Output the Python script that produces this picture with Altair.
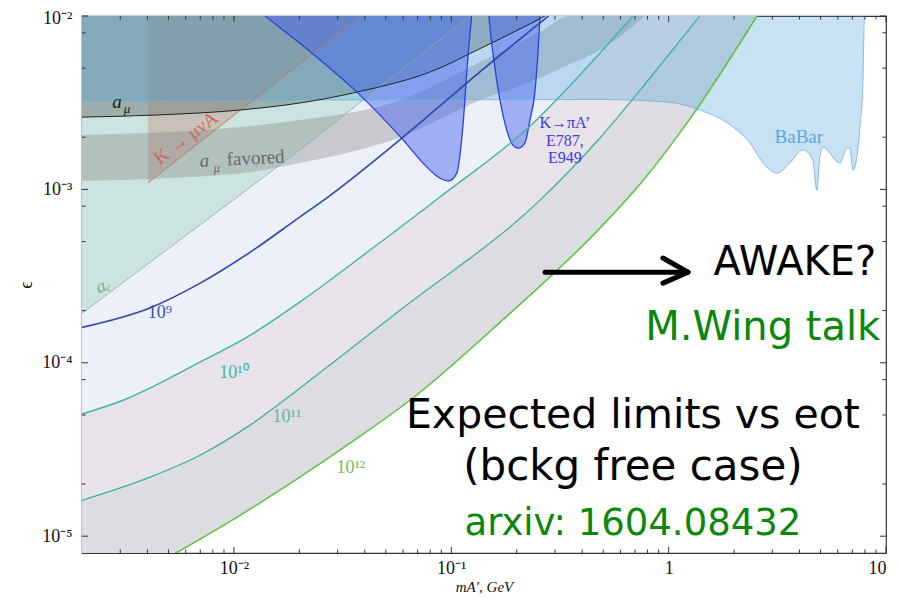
import altair as alt
import pandas as pd

SERIF = "Liberation Serif"
SANS = "DejaVu Sans"
W, H = 804, 537

X_DOMAIN = [0.002, 10.0]
Y_DOMAIN = [8e-6, 1e-2]
TOP = 1e-2

# ---- expected-limit curves (electrons on target) ----
m_1e9 = [0.002, 0.0041, 0.007, 0.0119, 0.020, 0.026, 0.060, 0.135, 0.28]
e_1e9 = [1.6e-4, 2.07e-4, 2.88e-4, 4.35e-4, 6.9e-4, 8.7e-4, 2.0e-3, 4.75e-3, 1.0e-2]
m_1e10 = [0.002, 0.00309, 0.00698, 0.01186, 0.0201, 0.0423, 0.0887, 0.238, 0.483, 0.685]
e_1e10 = [5.06e-5, 6.08e-5, 1.01e-4, 1.44e-4, 2.24e-4, 4.47e-4, 9.04e-4, 2.41e-3, 6.11e-3, 1.0e-2]
m_1e11 = [0.002, 0.00411, 0.00698, 0.01186, 0.0201, 0.0581, 0.256, 0.483, 0.820, 1.39]
e_1e11 = [1.61e-5, 2.19e-5, 2.93e-5, 4.37e-5, 7.14e-5, 2.01e-4, 8.67e-4, 1.98e-3, 4.39e-3, 1.0e-2]
m_1e12 = [0.002, 0.00541, 0.01067, 0.0201, 0.0342, 0.0646, 0.1675, 0.483, 0.738, 1.253, 2.55]
e_1e12 = [4.0e-6, 8.0e-6, 1.32e-5, 2.19e-5, 3.44e-5, 6.08e-5, 1.71e-4, 5.98e-4, 1.07e-3, 2.55e-3, 1.0e-2]

# ---- existing constraints ----
ae_m = [0.002, 0.00991, 0.0201, 0.122]
ae_e = [1.93e-4, 8.67e-4, 1.69e-3, 1.0e-2]

amu_m = [0.002, 0.00457, 0.01067, 0.0201, 0.0368, 0.0887, 0.126, 0.230, 0.270]
amu_e = [2.61e-3, 2.69e-3, 2.87e-3, 3.15e-3, 3.64e-3, 5.01e-3, 6.20e-3, 9.0e-3, 1.0e-2]

band_m = [0.002, 0.0107, 0.0201, 0.0581, 0.1355, 0.256, 0.352, 0.483, 0.778]
band_lo = [1.12e-3, 1.24e-3, 1.42e-3, 2.0e-3, 3.27e-3, 4.39e-3, 5.28e-3, 6.37e-3, 1.0e-2]
band_hi = [2.06e-3, 2.29e-3, 2.51e-3, 3.27e-3, 5.43e-3, 8.09e-3, 1.0e-2, 1.0e-2, 1.0e-2]

k_m = [0.00402, 0.0380]
k_e = [1.09e-3, 1.0e-2]

babar_m = [0.002, 0.483, 0.982, 1.39, 1.98, 2.37, 2.72, 3.15, 3.61, 4.14, 4.60, 4.81,
           4.96, 5.13, 6.14, 6.61, 6.82, 7.05, 7.35, 7.59, 7.83, 7.91, 7.95]
babar_e = [3.24e-3, 3.3e-3, 3.19e-3, 2.87e-3, 2.29e-3, 1.85e-3, 1.42e-3, 1.24e-3, 1.42e-3,
           1.69e-3, 1.48e-3, 9.9e-4, 1.54e-3, 1.75e-3, 1.42e-3, 1.73e-3, 1.73e-3, 1.29e-3,
           1.54e-3, 2.29e-3, 4.10e-3, 7.87e-3, 1.0e-2]

lobe1_m = [0.0139, 0.0231, 0.0368, 0.0600, 0.0757, 0.0887, 0.0975, 0.106, 0.113, 0.119, 0.124]
lobe1_e = [1.0e-2, 6.04e-3, 3.64e-3, 1.93e-3, 1.38e-3, 1.16e-3, 1.12e-3, 1.24e-3, 2.29e-3, 5.57e-3, 1.0e-2]
lobe2_m = [0.149, 0.151, 0.157, 0.1675, 0.180, 0.192, 0.203, 0.218, 0.230, 0.243, 0.251, 0.256]
lobe2_e = [1.0e-2, 8.3e-3, 5.57e-3, 3.27e-3, 2.20e-3, 1.80e-3, 1.73e-3, 1.85e-3, 2.51e-3, 3.74e-3, 6.37e-3, 1.0e-2]

# ---- arrow annotation ----
arrow_m = [0.270, 1.227]
arrow_e = [3.33e-4, 3.33e-4]
head_m = [0.942, 1.227, 0.942]
head_e = [4.02e-4, 3.33e-4, 2.88e-4]

# ---- ticks ----
x_major = [0.01, 0.1, 1.0, 10.0]
x_minor = [0.003, 0.004, 0.005, 0.006, 0.007, 0.008, 0.009,
           0.02, 0.03, 0.04, 0.05, 0.06, 0.07, 0.08, 0.09,
           0.2, 0.3, 0.4, 0.5, 0.6, 0.7, 0.8, 0.9,
           2.0, 3.0, 4.0, 5.0, 6.0, 7.0, 8.0, 9.0]
y_major = [1e-5, 1e-4, 1e-3, 1e-2]
y_minor = [2e-5, 5e-5, 8e-5, 2e-4, 5e-4, 8e-4, 2e-3, 5e-3, 8e-3]

xs = alt.Scale(type="log", domain=X_DOMAIN, nice=False)
ys = alt.Scale(type="log", domain=Y_DOMAIN, nice=False)

xaxis = alt.Axis(values=x_major, ticks=False, domain=False, grid=False,
                 labelExpr="datum.value == 0.01 ? '10⁻²' : datum.value == 0.1 ? '10⁻¹' : datum.value == 1 ? '1' : '10'",
                 labelFont=SERIF, labelFontSize=18, labelColor="#111", labelPadding=6,
                 labelFlush=True, labelOverlap=False,
                 title="mA′, GeV", titleFont=SERIF, titleFontStyle="italic", titleFontWeight="normal",
                 titleFontSize=15, titleColor="#111", titlePadding=2)
yaxis = alt.Axis(values=y_major, ticks=False, domain=False, grid=False,
                 labelExpr="datum.value == 0.01 ? '10⁻²' : datum.value == 0.001 ? '10⁻³' : datum.value == 0.0001 ? '10⁻⁴' : '10⁻⁵'",
                 labelFont=SERIF, labelFontSize=18, labelColor="#111", labelPadding=10,
                 labelFlush=True, labelFlushOffset=7, labelOverlap=False,
                 title="ϵ", titleFont=SERIF, titleFontWeight="normal", titleFontSize=18,
                 titleColor="#111", titlePadding=6)


def X(field="m"):
    return alt.X(f"{field}:Q", scale=xs, axis=xaxis)


def Y(field="e"):
    return alt.Y(f"{field}:Q", scale=ys, axis=yaxis)


def frame(m, e):
    return pd.DataFrame({"m": m, "e": e, "top": TOP})


def fill(m, e, color, opacity, interp="monotone"):
    return alt.Chart(frame(m, e)).mark_area(
        color=color, opacity=opacity, interpolate=interp, clip=True
    ).encode(x=X(), y=Y(), y2="top:Q")


def curve(m, e, color, width, interp="monotone"):
    return alt.Chart(frame(m, e)).mark_line(
        color=color, strokeWidth=width, interpolate=interp, clip=True
    ).encode(x=X(), y=Y())


def label(text, m, e, color, size, font=SERIF, style="normal", angle=0,
          align="center", baseline="alphabetic"):
    df = pd.DataFrame({"m": [m], "e": [e], "t": [text]})
    kw = dict(color=color, fontSize=size, font=font, fontStyle=style,
              align=align, baseline=baseline)
    if angle:
        kw["angle"] = angle
    return alt.Chart(df).mark_text(**kw).encode(x=X(), y=Y(), text="t:N")


layers = []
# expected-limit regions (opaque, back to front)
layers.append(fill(m_1e12, e_1e12, "#dcdce1", 1.0))
layers.append(fill(m_1e11, e_1e11, "#e7e3e8", 1.0))
layers.append(fill(m_1e10, e_1e10, "#eef0f9", 1.0))

# a_e excluded
layers.append(fill(ae_m, ae_e, "#9cd4bc", 0.42, "linear"))
# K -> mu nu A
layers.append(fill(k_m, k_e, "#c07060", 0.30, "linear"))
# a_mu favoured band
band_df = pd.DataFrame({"m": band_m, "lo": band_lo, "hi": band_hi})
layers.append(alt.Chart(band_df).mark_area(color="#808080", opacity=0.35,
                                           interpolate="monotone", clip=True)
              .encode(x=X(), y=Y("lo"), y2="hi:Q"))
# a_mu excluded
layers.append(fill(amu_m, amu_e, "#7c8886", 0.58))
# BaBar
layers.append(fill(babar_m, babar_e, "#4aa0dc", 0.30))
# K -> pi A' (E787, E949)
layers.append(fill(lobe1_m, lobe1_e, "#4060f0", 0.45))
layers.append(fill(lobe2_m, lobe2_e, "#4060f0", 0.45))

# boundary lines
layers.append(curve(ae_m, ae_e, "#86b0a2", 0.8, "linear"))
layers.append(curve(k_m, k_e, "#c07060", 0.9, "linear"))
layers.append(curve(babar_m, babar_e, "#6ab0e2", 0.8))
layers.append(curve(amu_m, amu_e, "#222222", 1.0))
layers.append(curve(lobe1_m, lobe1_e, "#2442e0", 1.3))
layers.append(curve(lobe2_m, lobe2_e, "#2442e0", 1.3))
layers.append(curve(m_1e9, e_1e9, "#2a48b0", 1.6))
layers.append(curve(m_1e10, e_1e10, "#3cb4ac", 1.4))
layers.append(curve(m_1e11, e_1e11, "#3cb0a8", 1.3))
layers.append(curve(m_1e12, e_1e12, "#5cc23c", 1.5))

# ticks (pointing inwards on all four sides)
xt = pd.DataFrame({"m": x_major})
xm = pd.DataFrame({"m": x_minor})
yt = pd.DataFrame({"e": y_major})
ym = pd.DataFrame({"e": y_minor})
tick_col = "#333333"
for df, ln in ((xt, 6), (xm, 3.5)):
    layers.append(alt.Chart(df).mark_rule(color=tick_col, strokeWidth=1).encode(
        x=X(), y=alt.value(H), y2=alt.value(H - ln)))
    layers.append(alt.Chart(df).mark_rule(color=tick_col, strokeWidth=1).encode(
        x=X(), y=alt.value(0), y2=alt.value(ln)))
for df, ln in ((yt, 6), (ym, 3.5)):
    layers.append(alt.Chart(df).mark_rule(color=tick_col, strokeWidth=1).encode(
        y=Y(), x=alt.value(0), x2=alt.value(ln)))
    layers.append(alt.Chart(df).mark_rule(color=tick_col, strokeWidth=1).encode(
        y=Y(), x=alt.value(W), x2=alt.value(W - ln)))

# physics labels
layers.append(label("a", 0.00290, 2.94e-3, "#1a1a1a", 19, style="italic"))
layers.append(label("μ", 0.00322, 2.74e-3, "#1a1a1a", 13, style="italic"))
layers.append(label("K → μνA", 0.00601, 1.98e-3, "#d2665a", 19, angle=323, baseline="middle"))
layers.append(label("a", 0.00735, 1.35e-3, "#6a6a6a", 19, style="italic", angle=357))
layers.append(label("μ", 0.00836, 1.26e-3, "#6a6a6a", 13, style="italic", angle=357))
layers.append(label("favored", 0.01262, 1.40e-3, "#6a6a6a", 19, angle=357))
layers.append(label("aₑ", 0.00250, 2.77e-4, "#78a890", 18, style="italic", angle=335, baseline="middle"))
layers.append(label("10⁹", 0.00457, 1.81e-4, "#3050b0", 18))
layers.append(label("10¹⁰", 0.0100, 8.15e-5, "#40b4ac", 18))
layers.append(label("10¹¹", 0.01754, 4.54e-5, "#5cb8a0", 18))
layers.append(label("10¹²", 0.0345, 2.31e-5, "#74bc54", 18))
layers.append(label("K→πA’", 0.333, 2.26e-3, "#3a3ae6", 16))
layers.append(label("E787,", 0.333, 1.78e-3, "#3a3ae6", 16))
layers.append(label("E949", 0.333, 1.42e-3, "#3a3ae6", 16))
layers.append(label("BaBar", 3.97, 1.85e-3, "#5aa8e0", 19))

# arrow
shaft = pd.DataFrame({"m": arrow_m, "e": arrow_e, "o": [0, 1]})
head = pd.DataFrame({"m": head_m, "e": head_e, "o": [0, 1, 2]})
for df in (shaft, head):
    layers.append(alt.Chart(df).mark_line(color="black", strokeWidth=5,
                                          strokeCap="round", strokeJoin="round")
                  .encode(x=X(), y=Y(), order="o:Q"))

# talk annotations
GREEN = "#0a880a"
layers.append(label("AWAKE?", 3.81, 3.21e-4, "black", 40, font=SANS))
layers.append(label("M.Wing talk", 2.71, 1.35e-4, GREEN, 40, font=SANS))
layers.append(label("Expected limits vs eot", 0.685, 4.20e-5, "black", 41, font=SANS))
layers.append(label("(bckg free case)", 0.685, 2.10e-5, "black", 42, font=SANS))
layers.append(label("arxiv: 1604.08432", 0.685, 1.01e-5, GREEN, 37, font=SANS))

chart = alt.layer(*layers).properties(
    width=W, height=H, background="white",
    padding={"left": 74, "top": 8, "right": 4, "bottom": 43},
    autosize=alt.AutoSizeParams(type="none"),
).configure_view(stroke="#333333", strokeWidth=1.2)

chart.save("out.html", embed_options={"renderer": "svg", "actions": False})
